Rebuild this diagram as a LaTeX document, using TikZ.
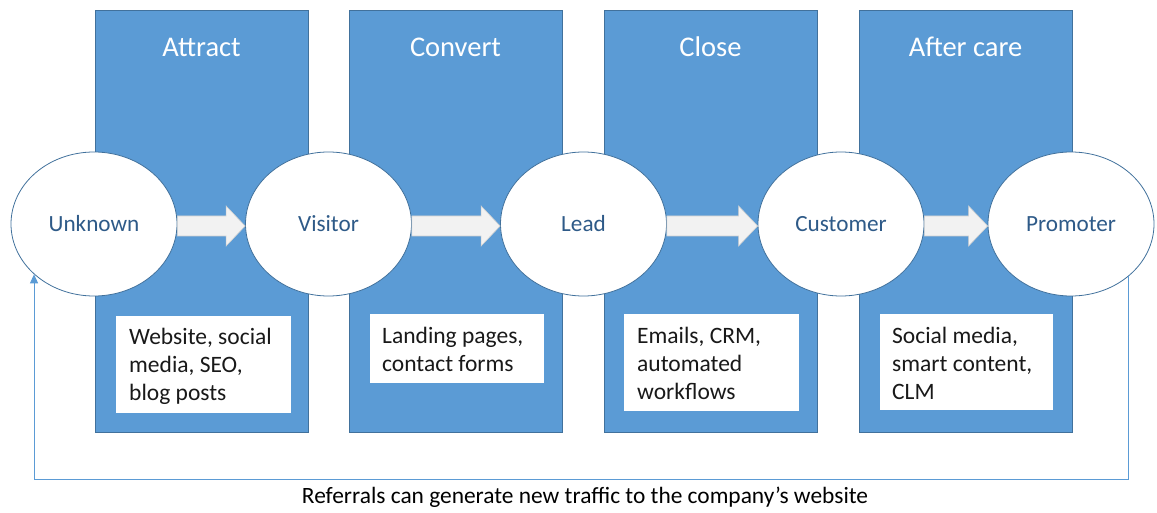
\documentclass[tikz,border=0pt]{standalone}
\usepackage{fontspec}
\setmainfont{Carlito}
\usetikzlibrary{shapes.geometric,arrows.meta,calc}
\definecolor{colfill}{HTML}{5B9BD5}
\definecolor{colline}{HTML}{41719C}
\definecolor{ellText}{HTML}{2E5A88}
\definecolor{arrFill}{HTML}{F2F2F2}
\definecolor{arrLine}{HTML}{D0D0D0}
\definecolor{fbline}{HTML}{5B9BD5}
\newcommand\myblockarrow[2]{%
  \path[blockarr] let \p1=($(#1.east)+(0,2)$), \p2=(#2.west) in
  (\x1,\y1+10pt) -- (\x2-19pt,\y1+10pt) -- (\x2-19pt,\y1+20pt) -- (\x2,\y1)
  -- (\x2-19pt,\y1-20pt) -- (\x2-19pt,\y1-10pt) -- (\x1,\y1-10pt) -- cycle;}
\begin{document}
\begin{tikzpicture}[x=1pt,y=-1pt,
  column/.style={draw=colline,fill=colfill,line width=0.8pt,anchor=north west,inner sep=0pt,minimum width=213pt,minimum height=422pt},
  title/.style={anchor=base,text=white,font=\fontsize{28.5}{33}\selectfont,inner sep=0pt},
  descbox/.style={fill=white,anchor=north west,inner sep=0pt},
  desctext/.style={anchor=base west,align=left,inner sep=0pt,text=black!90,font=\fontsize{23.5}{28}\selectfont},
  stage/.style={ellipse,draw=colline,fill=white,line width=0.8pt,minimum width=166pt,minimum height=144pt,inner sep=0pt,text=ellText,font=\fontsize{23.2}{27}\selectfont},
  blockarr/.style={fill=arrFill,draw=arrLine,line width=0.6pt},
  fbl/.style={draw=fbline,line width=1pt,-{Triangle[length=9pt,width=8pt]}},
  note/.style={inner sep=0pt,text=black,font=\fontsize{23.4}{27}\selectfont}]
\useasboundingbox (0,0) rectangle (1157,513);
% columns
\node[column] (c1) at (95,10) {};
\node[column] (c2) at (349,10) {};
\node[column] (c3) at (604,10) {};
\node[column] (c4) at (859,10) {};
% titles
\node[title] (t1) at (201.5,57) {Attract};
\node[title] (t2) at (455.5,57) {Convert};
\node[title] (t3) at (710.5,57) {Close};
\node[title] (t4) at (965.5,57) {After care};
% description boxes
\node[descbox,minimum width=175pt,minimum height=97pt] (b1) at (116,316) {};
\node[descbox,minimum width=174pt,minimum height=69pt] (b2) at (370,314) {};
\node[descbox,minimum width=175pt,minimum height=97pt] (b3) at (624,314) {};
\node[descbox,minimum width=173pt,minimum height=96pt] (b4) at (880,314) {};
% base anchor of a multi-line node = baseline of its last line
\node[desctext] (d1) at (129,400) {Website, social\\media, SEO,\\blog posts};
\node[desctext] (d2) at (382,371) {Landing pages,\\contact forms};
\node[desctext] (d3) at (637,399) {Emails, CRM,\\automated\\workflows};
\node[desctext] (d4) at (892,399) {Social media,\\smart content,\\CLM};
% stages
\node[stage] (u) at (94,224) {Unknown};
\node[stage] (v) at (328.5,224) {Visitor};
\node[stage] (l) at (583.5,224) {Lead};
\node[stage] (c) at (841,224) {Customer};
\node[stage] (p) at (1071,224) {Promoter};
% block arrows
\myblockarrow{u}{v}
\myblockarrow{v}{l}
\myblockarrow{l}{c}
\myblockarrow{c}{p}
% feedback loop
\coordinate (fb) at (0,479);
\draw[fbl] (p.318) -- (p.318 |- fb) -| (u.220.6);
\node[note] (lbl) at (585,497) {Referrals can generate new traffic to the company’s website};
\end{tikzpicture}
\end{document}
